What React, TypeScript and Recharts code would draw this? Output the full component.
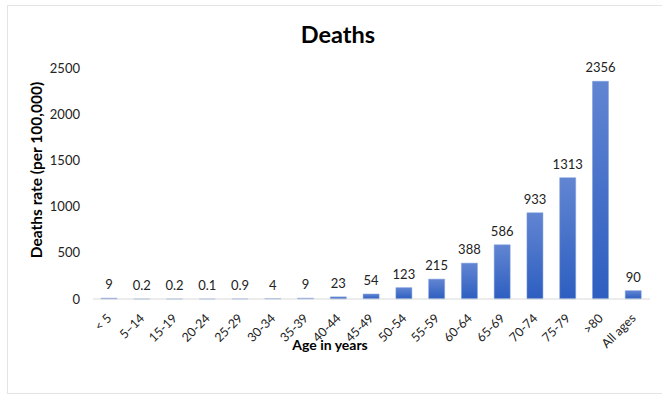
import { BarChart, Bar, XAxis, YAxis, LabelList } from "recharts";

const ageGroups = ["< 5", "5–14", "15-19", "20-24", "25-29", "30-34", "35-39", "40-44", "45-49", "50-54", "55-59", "60-64", "65-69", "70-74", "75-79", ">80", "All ages"];
const deathRates = [9, 0.2, 0.2, 0.1, 0.9, 4, 9, 23, 54, 123, 215, 388, 586, 933, 1313, 2356, 90];
const yTicks = [0, 500, 1000, 1500, 2000, 2500];

const data = ageGroups.map((age, i) => ({ age, rate: deathRates[i] }));

const FONT = "Lato, 'Open Sans', sans-serif";

function AgeTick(props: any) {
  const { x, y, payload } = props;
  return (
    <g transform={`translate(${x},${y})`}>
      <text x={3} y={12} textAnchor="end" fill="#222" fontSize={12.5} fontFamily={FONT} transform="rotate(-45, 3, 12)">
        {payload.value}
      </text>
    </g>
  );
}

function YTitle() {
  const x = 42;
  const y = 170;
  return (
    <text x={x} y={y} transform={`rotate(-90, ${x}, ${y})`} textAnchor="middle" fontFamily={FONT} fontWeight="bold" fontSize={15.5} fill="#000">
      Deaths rate (per 100,000)
    </text>
  );
}

function XTitle(props: any) {
  const vb = props.viewBox || {};
  return (
    <text x={330} y={vb.y + 51} textAnchor="middle" fontFamily={FONT} fontWeight="bold" fontSize={14} fill="#000">
      Age in years
    </text>
  );
}

export default function App() {
  return (
    <div style={{ position: "absolute", left: 0, top: 0, width: 662, height: 395, background: "#fff", overflow: "hidden" }}>
      <div style={{ position: "absolute", left: 7, top: 5, width: 660, height: 387, border: "1px solid #e4e4e4" }} />
      <div style={{ position: "absolute", left: 0, top: 22, width: 676, textAlign: "center", fontFamily: FONT, fontWeight: "bold", fontSize: 23.5, lineHeight: "24px", color: "#000" }}>
        Deaths
      </div>
      <div style={{ position: "absolute", left: 0, top: 0 }}>
        <BarChart width={662} height={395} data={data} margin={{ top: 68, right: 12, bottom: 0, left: 0 }} barSize={16}>
          <defs>
            <linearGradient id="barGrad" x1="0" y1="0" x2="0" y2="1">
              <stop offset="0%" stopColor="#6285d2" />
              <stop offset="100%" stopColor="#2d5ec0" />
            </linearGradient>
          </defs>
          <XAxis
            dataKey="age"
            height={96}
            interval={0}
            tick={<AgeTick />}
            tickLine={false}
            axisLine={{ stroke: "#d9d9d9" }}
            label={<XTitle />}
          />
          <YAxis
            width={93}
            domain={[0, 2500]}
            ticks={yTicks}
            axisLine={false}
            tickLine={false}
            tickSize={0}
            tickMargin={13}
            tick={{ fill: "#222", fontSize: 13, fontFamily: FONT }}
            label={<YTitle />}
          />
          <Bar dataKey="rate" fill="url(#barGrad)" stroke="#7d9ddf" strokeWidth={0.5} isAnimationActive={false}>
            <LabelList dataKey="rate" position="top" offset={9} fill="#222" fontSize={13} fontFamily={FONT} />
          </Bar>
        </BarChart>
      </div>
    </div>
  );
}
